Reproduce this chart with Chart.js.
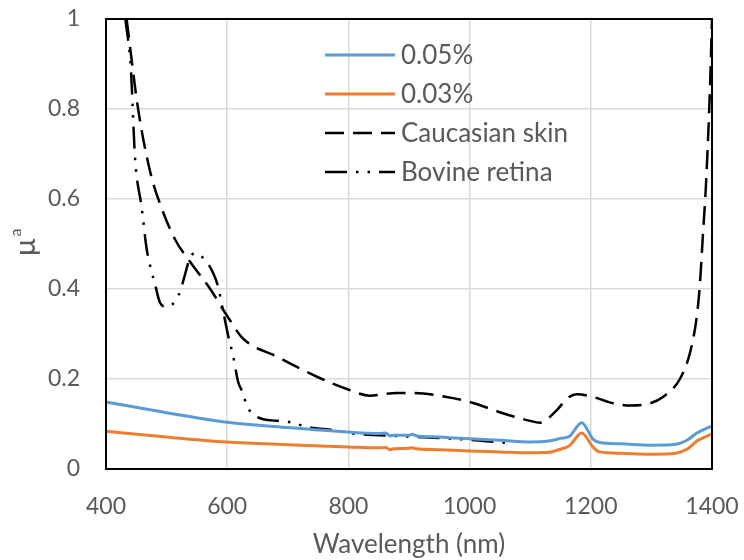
<!DOCTYPE html>
<html>
<head>
<meta charset="utf-8">
<script src="https://cdn.jsdelivr.net/npm/chart.js@4/dist/chart.umd.min.js"></script>
<style>
  html, body { margin: 0; padding: 0; background: #fff; }
  #wrap { width: 744px; height: 560px; }
</style>
</head>
<body>
<div id="wrap"><canvas id="absChart" width="744" height="560"></canvas></div>
<script>
// -------------------- DATA --------------------
const xTicks = [400, 600, 800, 1000, 1200, 1400];
const yTicks = [0, 0.2, 0.4, 0.6, 0.8, 1];

const seriesNames = ["0.05%", "0.03%", "Caucasian skin", "Bovine retina"];

// 0.05% and 0.03% share the same wavelengths
const dyeWavelengths = [400, 500, 600, 700, 800, 850, 862, 868, 875, 900, 905, 912, 950, 1000, 1050, 1100, 1130, 1150, 1165, 1185, 1204, 1215, 1250, 1300, 1340, 1360, 1375, 1400];
const dye005 = [0.149, 0.125, 0.104, 0.092, 0.082, 0.079, 0.080, 0.074, 0.075, 0.075, 0.077, 0.074, 0.071, 0.067, 0.064, 0.060, 0.062, 0.068, 0.073, 0.103, 0.066, 0.059, 0.056, 0.053, 0.055, 0.065, 0.080, 0.096];
const dye003 = [0.084, 0.071, 0.060, 0.054, 0.049, 0.047, 0.048, 0.043, 0.045, 0.046, 0.047, 0.045, 0.043, 0.040, 0.038, 0.036, 0.037, 0.044, 0.052, 0.080, 0.048, 0.038, 0.035, 0.033, 0.035, 0.045, 0.062, 0.078];

const skinWavelengths = [434, 453, 473, 489, 514, 539, 572, 600, 626, 682, 748, 803, 835, 880, 907, 962, 1000, 1055, 1100, 1116, 1144, 1161, 1177, 1204, 1237, 1265, 1298, 1319, 1347, 1364, 1375, 1380, 1385, 1390, 1394, 1397, 1400];
const skinValues = [1.0, 0.80, 0.66, 0.59, 0.51, 0.46, 0.40, 0.34, 0.29, 0.25, 0.205, 0.175, 0.163, 0.169, 0.169, 0.16, 0.149, 0.124, 0.107, 0.103, 0.131, 0.157, 0.166, 0.16, 0.146, 0.141, 0.146, 0.16, 0.20, 0.26, 0.34, 0.41, 0.52, 0.63, 0.75, 0.86, 1.0];

const retinaWavelengths = [432, 441, 448, 459, 467, 475, 481, 489, 500, 509, 520, 527, 539, 547, 566, 577, 585, 593, 601, 610, 618, 626, 632, 649, 682, 704, 731, 781, 800, 900, 1000, 1062];
const retinaValues = [1.0, 0.89, 0.69, 0.58, 0.49, 0.44, 0.41, 0.37, 0.36, 0.365, 0.387, 0.416, 0.47, 0.48, 0.46, 0.435, 0.405, 0.353, 0.30, 0.25, 0.194, 0.169, 0.142, 0.116, 0.107, 0.104, 0.094, 0.085, 0.080, 0.072, 0.065, 0.058];

// -------------------- HELPERS --------------------
function toPoints(xs, ys) {
  return xs.map((x, i) => ({ x: x, y: ys[i] }));
}

const textColor = "#595959";
const fontFamily = "Lato, 'Open Sans', sans-serif";

// stop the tick labels from pushing the plot area around
function fixScale(scale, size) {
  if (scale.isHorizontal()) {
    scale.height = size;
  } else {
    scale.width = size;
  }
  scale.paddingTop = 0;
  scale.paddingBottom = 0;
  scale.paddingLeft = 0;
  scale.paddingRight = 0;
}

// legend drawn inside the plot, like the original
const innerLegend = {
  id: "innerLegend",
  afterDraw(chart) {
    const ctx = chart.ctx;
    const area = chart.chartArea;
    const left = area.left + 219;
    const top = area.top + 36;
    const step = 39;

    ctx.save();
    chart.data.datasets.forEach((ds, i) => {
      const y = top + i * step;
      ctx.beginPath();
      ctx.strokeStyle = ds.borderColor;
      ctx.lineWidth = ds.borderWidth;
      ctx.setLineDash(ds.borderDash || []);
      ctx.lineCap = "butt";
      ctx.moveTo(left, y);
      ctx.lineTo(left + 70, y);
      ctx.stroke();

      ctx.setLineDash([]);
      ctx.fillStyle = textColor;
      ctx.font = "26px " + fontFamily;
      ctx.textBaseline = "middle";
      ctx.fillText(ds.label, left + 76, y + 1);
    });
    ctx.restore();
  }
};

// y axis title: mu with a small superscript a
const yTitle = {
  id: "yTitle",
  afterDraw(chart) {
    const ctx = chart.ctx;
    const area = chart.chartArea;
    ctx.save();
    ctx.translate(26, (area.top + area.bottom) / 2);
    ctx.rotate(-Math.PI / 2);
    ctx.fillStyle = textColor;
    ctx.textBaseline = "middle";
    ctx.textAlign = "left";
    ctx.font = "29px " + fontFamily;
    const muWidth = ctx.measureText("µ").width;
    ctx.fillText("µ", -muWidth / 2 - 3, 0);
    ctx.font = "16px " + fontFamily;
    ctx.fillText("a", muWidth / 2 - 2, -10);
    ctx.restore();
  }
};

const plotFrame = {
  id: "plotFrame",
  afterDatasetsDraw(chart) {
    const ctx = chart.ctx;
    const a = chart.chartArea;
    ctx.save();
    ctx.strokeStyle = "#000";
    ctx.lineWidth = 2;
    ctx.strokeRect(a.left, a.top, a.right - a.left, a.bottom - a.top);
    ctx.restore();
  }
};

// -------------------- CHART --------------------
const ctx = document.getElementById("absChart");

new Chart(ctx, {
  type: "line",
  data: {
    datasets: [
      {
        label: seriesNames[0],
        data: toPoints(dyeWavelengths, dye005),
        borderColor: "#5b9bd5",
        borderWidth: 3,
        cubicInterpolationMode: "monotone",
        pointRadius: 0
      },
      {
        label: seriesNames[1],
        data: toPoints(dyeWavelengths, dye003),
        borderColor: "#ed7d31",
        borderWidth: 3,
        cubicInterpolationMode: "monotone",
        pointRadius: 0
      },
      {
        label: seriesNames[2],
        data: toPoints(skinWavelengths, skinValues),
        borderColor: "#000000",
        borderWidth: 2.5,
        borderDash: [19, 9],
        cubicInterpolationMode: "monotone",
        pointRadius: 0
      },
      {
        label: seriesNames[3],
        data: toPoints(retinaWavelengths, retinaValues),
        borderColor: "#000000",
        borderWidth: 2.5,
        borderDash: [22, 9, 2.5, 9, 2.5, 9],
        cubicInterpolationMode: "monotone",
        pointRadius: 0
      }
    ]
  },
  options: {
    responsive: false,
    animation: false,
    layout: {
      autoPadding: false,
      padding: { top: 19, right: 32, left: 0, bottom: 0 }
    },
    plugins: {
      legend: { display: false },
      tooltip: { enabled: false }
    },
    scales: {
      x: {
        type: "linear",
        min: xTicks[0],
        max: xTicks[xTicks.length - 1],
        afterBuildTicks: (scale) => {
          scale.ticks = xTicks.map((v) => ({ value: v }));
        },
        afterFit: (scale) => fixScale(scale, 91),
        grid: { color: "#d9d9d9", lineWidth: 1.5, drawTicks: false },
        border: { display: false },
        ticks: {
          color: textColor,
          font: { size: 23, family: fontFamily },
          padding: 24,
          maxRotation: 0,
          autoSkip: false,
          callback: (v) => String(v)
        },
        title: {
          display: true,
          text: "Wavelength (nm)",
          color: textColor,
          font: { size: 26, family: fontFamily },
          padding: { top: 0, bottom: 0 }
        }
      },
      y: {
        min: yTicks[0],
        max: yTicks[yTicks.length - 1],
        afterBuildTicks: (scale) => {
          scale.ticks = yTicks.map((v) => ({ value: v }));
        },
        afterFit: (scale) => fixScale(scale, 106),
        grid: { color: "#d9d9d9", lineWidth: 1.5, drawTicks: false },
        border: { display: false },
        ticks: {
          color: textColor,
          font: { size: 23, family: fontFamily },
          padding: 26,
          callback: (v) => String(Math.round(v * 10) / 10)
        }
      }
    }
  },
  plugins: [innerLegend, yTitle, plotFrame]
});
</script>
</body>
</html>
